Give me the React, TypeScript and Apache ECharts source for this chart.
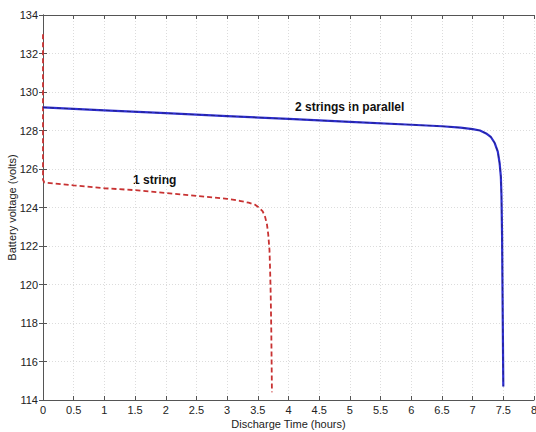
import React, { useEffect, useRef } from "react";
import * as echarts from "echarts";

// Discharge curves: time in hours, voltage in volts
const oneStringTime = [0, 0, 0.02, 0.5, 1, 1.5, 2, 2.5, 3, 3.2, 3.35, 3.45, 3.52, 3.58, 3.62, 3.65, 3.67, 3.69, 3.7, 3.71, 3.72, 3.73];
const oneStringVolts = [133.0, 125.45, 125.3, 125.15, 125.0, 124.9, 124.75, 124.6, 124.45, 124.35, 124.25, 124.15, 124.0, 123.8, 123.5, 123.1, 122.6, 121.8, 120.8, 119.5, 117.5, 114.4];

const twoStringTime = [0, 1, 2, 3, 4, 5, 6, 6.5, 6.8, 7.0, 7.12, 7.22, 7.3, 7.36, 7.41, 7.44, 7.46, 7.47, 7.48, 7.49, 7.5];
const twoStringVolts = [129.2, 129.05, 128.9, 128.75, 128.6, 128.45, 128.3, 128.22, 128.15, 128.07, 128.0, 127.85, 127.65, 127.35, 126.9, 126.3, 125.6, 124.6, 122.5, 118.5, 114.7];

const xTicks = { min: 0, max: 8, interval: 0.5 };
const yTicks = { min: 114, max: 134, interval: 2 };

const curveLabels = ["2 strings in parallel", "1 string"];

const zip = (xs: number[], ys: number[]) => xs.map((x, i) => [x, ys[i]]);

const FONT = "Liberation Sans, Arial, sans-serif";

export default function App() {
  const ref = useRef<HTMLDivElement>(null);

  useEffect(() => {
    if (!ref.current) return;
    const chart = echarts.init(ref.current, undefined, { renderer: "svg" });
    const axisLine = { show: true, lineStyle: { color: "#555", width: 1 } };
    const tick = { show: true, inside: true, length: 4, lineStyle: { color: "#555" } };
    const split = { show: true, lineStyle: { color: "#dcdcdc", type: [1, 2] as any, width: 1 } };
    chart.setOption({
      animation: false,
      backgroundColor: "#fff",
      grid: {
        left: 43,
        right: 2,
        top: 15,
        bottom: 32,
        containLabel: false,
        outerBoundsMode: "none",
      },
      xAxis: [
        {
          type: "value",
          ...xTicks,
          position: "bottom",
          name: "Discharge Time (hours)",
          nameLocation: "middle",
          nameGap: 18,
          nameMoveOverlap: false,
          nameTextStyle: { fontFamily: FONT, fontSize: 11, color: "#222" },
          axisLine,
          axisTick: tick,
          splitLine: split,
          axisLabel: { fontFamily: FONT, fontSize: 11, color: "#222", margin: 4 },
        },
        {
          type: "value",
          ...xTicks,
          position: "top",
          axisLine,
          axisTick: tick,
          splitLine: { show: false },
          axisLabel: { show: false },
        },
      ],
      yAxis: [
        {
          type: "value",
          ...yTicks,
          position: "left",
          name: "Battery voltage (volts)",
          nameLocation: "middle",
          nameGap: 26,
          nameMoveOverlap: false,
          nameTextStyle: { fontFamily: FONT, fontSize: 11, color: "#222" },
          axisLine,
          axisTick: tick,
          splitLine: split,
          axisLabel: { fontFamily: FONT, fontSize: 11, color: "#222", margin: 5 },
        },
        {
          type: "value",
          ...yTicks,
          position: "right",
          axisLine,
          axisTick: tick,
          splitLine: { show: false },
          axisLabel: { show: false },
        },
      ],
      series: [
        {
          type: "line",
          name: "1 string",
          data: zip(oneStringTime, oneStringVolts),
          showSymbol: false,
          lineStyle: { color: "#c83232", width: 1.8, type: [5, 3] as any },
        },
        {
          type: "line",
          name: "2 strings in parallel",
          data: zip(twoStringTime, twoStringVolts),
          showSymbol: false,
          lineStyle: { color: "#2e2ed0", width: 2.2 },
        },
        {
          type: "line",
          name: "2 strings in parallel (overlay)",
          data: zip(twoStringTime, twoStringVolts),
          showSymbol: false,
          lineStyle: { color: "#15153a", width: 0.9, type: [4, 3] as any, opacity: 0.55 },
        },
      ],
      graphic: [
        {
          type: "text",
          left: 295,
          top: 101,
          style: { text: curveLabels[0], fontFamily: FONT, fontSize: 12, fontWeight: "bold", fill: "#111" },
        },
        {
          type: "text",
          left: 133,
          top: 174,
          style: { text: curveLabels[1], fontFamily: FONT, fontSize: 12, fontWeight: "bold", fill: "#111" },
        },
      ],
    });
    return () => chart.dispose();
  }, []);

  return (
    <div
      ref={ref}
      style={{ position: "fixed", left: 0, top: 0, width: 536, height: 432, background: "#fff" }}
    />
  );
}
